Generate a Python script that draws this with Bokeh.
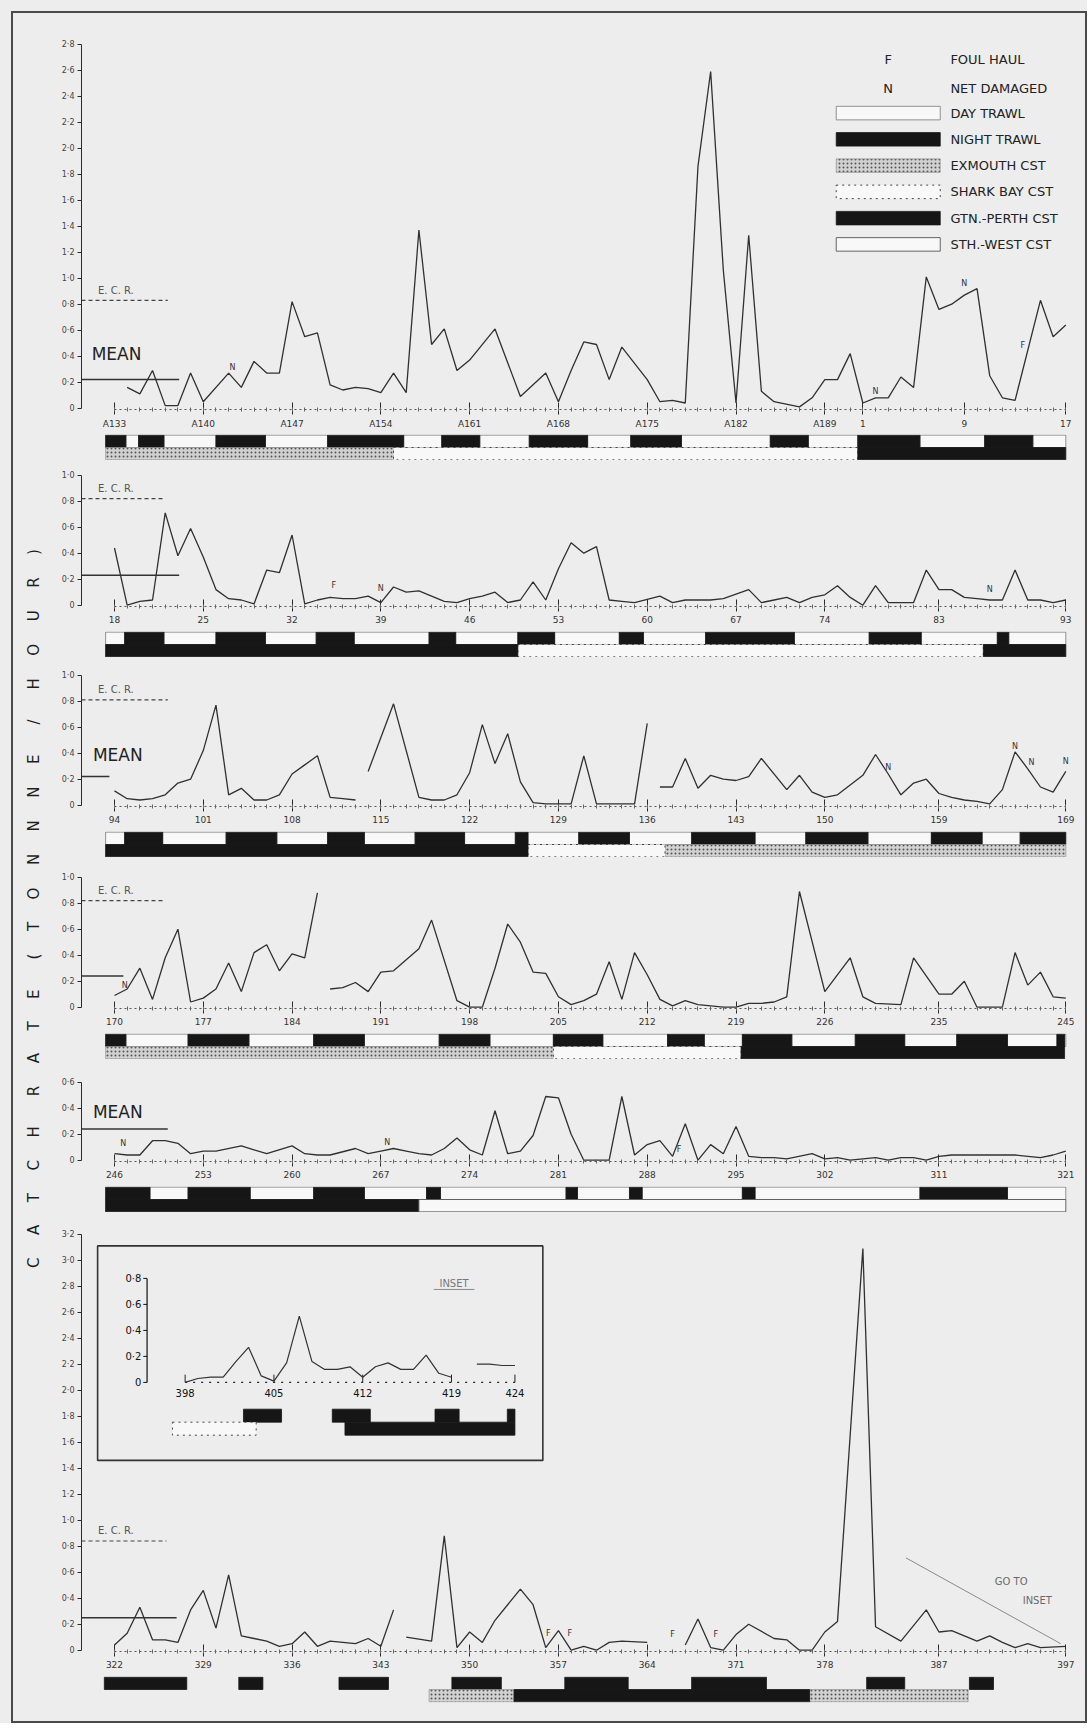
import math
from bokeh.plotting import figure
from bokeh.models import Range1d, FixedTicker, Spacer
from bokeh.layouts import column, row
from bokeh.embed import file_html
from bokeh.resources import INLINE
from bokeh.core.properties import value

# ------------------------------------------------------------------ data
# Each strip shows 76 consecutive hauls (positions 0..75); None = no point.
STD_TICK_POS = [0, 7, 14, 21, 28, 35, 42, 49, 56, 65, 75]

p1_tick_pos = [0, 7, 14, 21, 28, 35, 42, 49, 56, 59, 67, 75]
p1_tick_labels = ["A133", "A140", "A147", "A154", "A161", "A168", "A175",
                  "A182", "A189", "1", "9", "17"]
p1_rate = [None, 0.16, 0.11, 0.29, 0.02, 0.02, 0.27, 0.05, None, 0.27,
           0.16, 0.36, 0.27, 0.27, 0.82, 0.55, 0.58, 0.18, 0.14, 0.16,
           0.15, 0.12, 0.27, 0.12, 1.37, 0.49, 0.61, 0.29, 0.37, None,
           0.61, None, 0.09, None, 0.27, 0.05, 0.29, 0.51, 0.49, 0.22,
           0.47, None, 0.22, 0.05, 0.06, 0.04, 1.86, 2.59, 1.06, 0.04,
           1.33, 0.13, 0.05, None, 0.01, 0.08, 0.22, 0.22, 0.42, 0.04,
           0.08, 0.08, 0.24, 0.16, 1.01, 0.76, 0.80, 0.87, 0.92, 0.25,
           0.08, 0.06, None, 0.83, 0.55, 0.64]
p1_breaks = []
p1_night = [(-0.7, 0.9), (1.9, 3.9), (8.0, 11.9), (16.8, 22.8), (25.8, 28.8),
            (32.7, 37.3), (40.7, 44.7), (51.7, 54.7), (58.6, 63.5), (68.6, 72.4)]
p1_coast = [("exmouth", -0.7, 22.0), ("shark", 22.0, 58.6), ("perth", 58.6, 75.0)]
p1_marks = [("N", 9.3, 0.31), ("N", 60.0, 0.13), ("N", 67.0, 0.96), ("F", 71.6, 0.48)]

p2_tick_labels = ["18", "25", "32", "39", "46", "53", "60", "67", "74", "83", "93"]
p2_rate = [0.44, 0.00, 0.03, 0.04, 0.71, 0.38, 0.59, 0.37, 0.12, 0.05,
           0.04, 0.01, 0.27, 0.25, 0.54, 0.01, 0.04, 0.06, 0.05, 0.05,
           0.07, 0.02, 0.14, 0.10, 0.11, 0.07, 0.03, 0.02, 0.05, 0.07,
           0.10, 0.02, 0.04, 0.18, 0.04, 0.28, 0.48, 0.40, 0.45, 0.04,
           0.03, 0.02, None, 0.07, 0.02, 0.04, 0.04, 0.04, 0.05, None,
           0.12, 0.02, 0.04, 0.06, 0.02, 0.06, 0.08, 0.15, 0.06, 0.00,
           0.15, 0.02, 0.02, 0.02, 0.27, 0.12, 0.12, 0.06, 0.05, 0.04,
           0.04, 0.27, 0.04, 0.04, 0.02, 0.04]
p2_breaks = []
p2_night = [(0.8, 3.9), (8.0, 11.9), (15.9, 18.9), (24.8, 26.9), (31.8, 34.7),
            (39.8, 41.7), (46.6, 53.6), (59.5, 63.6), (69.6, 70.5)]
p2_coast = [("perth", -0.7, 31.8), ("shark", 31.8, 68.5), ("perth", 68.5, 75.0)]
p2_marks = [("F", 17.3, 0.15), ("N", 21.0, 0.13), ("N", 69.0, 0.12)]

p3_tick_labels = ["94", "101", "108", "115", "122", "129", "136", "143", "150", "159", "169"]
p3_rate = [0.11, 0.05, 0.04, 0.05, 0.08, 0.17, 0.20, 0.42, 0.77, 0.08,
           0.13, 0.04, 0.04, 0.08, 0.24, 0.31, 0.38, 0.06, 0.05, 0.04,
           0.26, None, 0.78, None, 0.06, 0.04, 0.04, 0.08, 0.25, 0.62,
           0.32, 0.55, 0.18, 0.02, 0.01, 0.01, 0.01, 0.38, 0.01, 0.01,
           0.01, 0.01, 0.63, 0.14, 0.14, 0.36, 0.13, 0.23, 0.20, 0.19,
           0.22, 0.36, None, 0.12, 0.23, 0.10, 0.06, 0.08, None, 0.23,
           0.39, 0.24, 0.08, 0.17, 0.20, 0.09, 0.06, 0.04, 0.03, 0.01,
           0.12, 0.41, 0.28, 0.14, 0.10, 0.26]
p3_breaks = [19, 42]
p3_night = [(0.8, 3.8), (8.8, 12.8), (16.8, 19.7), (23.7, 27.6), (31.6, 32.6),
            (36.6, 40.6), (45.5, 50.5), (54.5, 59.4), (64.4, 68.4), (71.4, 75.0)]
p3_coast = [("perth", -0.7, 32.6), ("shark", 32.6, 43.4), ("exmouth", 43.4, 75.0)]
p3_marks = [("N", 61.0, 0.29), ("N", 71.0, 0.45), ("N", 72.3, 0.33), ("N", 75.0, 0.34)]

p4_tick_labels = ["170", "177", "184", "191", "198", "205", "212", "219", "226", "235", "245"]
p4_rate = [0.09, 0.14, 0.30, 0.06, 0.38, 0.60, 0.04, 0.07, 0.14, 0.34,
           0.12, 0.42, 0.48, 0.28, 0.41, 0.38, 0.88, 0.14, 0.15, 0.19,
           0.12, 0.27, 0.28, None, 0.45, 0.67, None, 0.05, 0.00, 0.00,
           0.30, 0.64, 0.50, 0.27, 0.26, 0.08, 0.02, 0.05, 0.10, 0.35,
           0.06, 0.42, 0.25, 0.06, 0.01, 0.05, 0.02, 0.01, 0.00, 0.00,
           0.03, 0.03, 0.04, 0.08, 0.89, None, 0.12, None, 0.38, 0.08,
           0.03, None, 0.02, 0.38, None, 0.10, 0.10, 0.20, 0.00, 0.00,
           0.00, 0.42, 0.17, 0.27, 0.08, 0.07]
p4_breaks = [16]
p4_night = [(-0.7, 0.9), (5.8, 10.6), (15.7, 19.7), (25.6, 29.6), (34.6, 38.5),
            (43.6, 46.5), (49.5, 53.4), (58.4, 62.3), (66.4, 70.4), (74.3, 74.9)]
p4_coast = [("exmouth", -0.7, 34.6), ("shark", 34.6, 49.4), ("perth", 49.4, 74.9)]
p4_marks = [("N", 0.8, 0.17)]

p5_tick_labels = ["246", "253", "260", "267", "274", "281", "288", "295", "302", "311", "321"]
p5_rate = [0.05, 0.04, 0.04, 0.15, 0.15, 0.13, 0.05, 0.07, 0.07, None,
           0.11, 0.08, 0.05, None, 0.11, 0.05, 0.04, 0.04, None, 0.09,
           0.05, 0.07, 0.09, 0.07, 0.05, 0.04, 0.09, 0.17, 0.08, 0.04,
           0.38, 0.05, 0.07, 0.19, 0.49, 0.48, 0.20, 0.00, 0.00, 0.00,
           0.49, 0.04, 0.12, 0.15, 0.03, 0.28, 0.00, 0.12, 0.05, 0.26,
           0.03, 0.02, 0.02, 0.01, None, 0.05, 0.01, 0.02, 0.00, 0.01,
           0.02, 0.00, 0.02, 0.02, 0.00, 0.03, 0.04, 0.04, 0.04, 0.04,
           0.04, 0.04, 0.03, 0.02, 0.04, 0.07]
p5_breaks = []
p5_night = [(-0.7, 2.8), (5.8, 10.7), (15.7, 19.7), (24.6, 25.7), (35.6, 36.5),
            (40.6, 41.6), (49.5, 50.5), (63.5, 70.4)]
p5_coast = [("perth", -0.7, 24.0), ("southwest", 24.0, 75.0)]
p5_marks = [("N", 0.7, 0.13), ("N", 21.5, 0.14), ("F", 44.5, 0.08)]

p6_tick_labels = ["322", "329", "336", "343", "350", "357", "364", "371", "378", "387", "397"]
p6_rate = [0.04, 0.13, 0.33, 0.08, 0.08, 0.06, 0.31, 0.46, 0.17, 0.58,
           0.11, 0.09, 0.07, 0.03, 0.05, 0.14, 0.03, 0.07, None, 0.05,
           0.09, 0.03, 0.31, 0.10, None, 0.07, 0.88, 0.02, 0.14, 0.06,
           0.23, None, 0.47, 0.35, 0.02, 0.15, 0.00, 0.03, 0.00, 0.06,
           0.07, None, 0.06, None, None, 0.04, 0.24, 0.02, 0.00, 0.12,
           0.20, None, 0.09, 0.08, 0.00, 0.00, 0.14, 0.22, None, 3.09,
           0.18, None, 0.07, None, 0.31, 0.14, 0.15, None, 0.07, 0.11,
           0.06, 0.02, 0.05, 0.02, None, 0.03]
p6_breaks = [22, 42]
p6_night = [(-0.8, 5.7), (9.8, 11.7), (17.7, 21.6), (26.6, 30.5), (35.5, 40.5),
            (45.5, 51.4), (59.3, 62.3), (67.4, 69.3)]
p6_coast = [("exmouth", 24.8, 31.5), ("perth", 31.5, 54.8), ("exmouth", 54.8, 67.3)]
p6_marks = [("F", 34.2, 0.13), ("F", 35.9, 0.13), ("F", 44.0, 0.12), ("F", 47.4, 0.12)]

# inset: hauls 398..424
inset_first_haul = 398
inset_tick_pos = [398, 405, 412, 419, 424]
inset_rate = [0.00, 0.03, 0.04, 0.04, 0.16, 0.27, 0.05, 0.01, 0.15, 0.51,
              0.16, 0.10, 0.10, 0.12, 0.04, 0.12, 0.15, 0.10, 0.10, 0.21,
              0.07, 0.04, None, 0.14, 0.14, 0.13, 0.13]
inset_breaks = [419]
inset_night = [(402.6, 405.6), (409.6, 412.6), (417.7, 419.6), (423.4, 424.0)]
inset_coast = [("shark", 397.0, 403.6), ("perth", 410.6, 424.0)]
inset_yticks = [0, 0.2, 0.4, 0.6, 0.8]

# reference levels per strip
ecr_level = [0.83, 0.82, 0.81, 0.82, None, 0.84]
mean_level = [0.22, 0.23, 0.22, 0.24, 0.24, 0.25]

legend_keys = ["day", "night", "exmouth", "shark", "perth", "southwest"]
legend_names = ["DAY TRAWL", "NIGHT TRAWL", "EXMOUTH CST", "SHARK BAY CST",
                "GTN.-PERTH CST", "STH.-WEST CST"]

# ------------------------------------------------------------------ style
PAPER = "#ededed"
FRAME = "#4a4a4a"
INK = "#2a2a2a"
FONT = "DejaVu Sans"
PX = 130.0               # pixels per tonne/hour
PAD = 11                 # page margin outside the drawn frame
LW = 2                   # frame line width
LAB_W = 32
FIG_W = 1040
LEFT = 36
RIGHT = 7
AXIS_BAND = 25
BAR_H = 26
XR = Range1d(-2.6, 76.0)

STYLES = {
    "day": dict(fill_color="#f8f8f8", line_color="#777777", line_width=0.8),
    "night": dict(fill_color="#161616", line_color="#161616", line_width=0.8),
    "exmouth": dict(fill_color="#d2d2d2", line_color="#8a8a8a", line_width=0.6,
                    hatch_pattern=".", hatch_color="#555555", hatch_scale=4, hatch_weight=1),
    "shark": dict(fill_color="#f8f8f8", line_color="#444444", line_width=1.0, line_dash="dotted"),
    "perth": dict(fill_color="#161616", line_color="#161616", line_width=0.8),
    "southwest": dict(fill_color="#f8f8f8", line_color="#555555", line_width=0.9),
}


def fmt(t):
    return "0" if t == 0 else f"{t:.1f}".replace(".", "\u00b7")


def series(vals, breaks, start=0):
    xs, ys = [], []
    for i, v in enumerate(vals):
        if v is None:
            continue
        xs.append(start + i)
        ys.append(v)
        if start + i in breaks:
            xs.append(start + i + 0.5)
            ys.append(float("nan"))
    return xs, ys


def day_segments(night, span):
    segs, cur = [], span[0]
    for a, b in sorted(night):
        if a > cur:
            segs.append((cur, a))
        cur = max(cur, b)
    if cur < span[1]:
        segs.append((cur, span[1]))
    return segs


def txt(p, xs, ys, texts, size, color=INK, align="left", baseline="middle", **kw):
    p.text(x=xs, y=ys, text=texts, text_font=value(FONT), text_font_size=size,
           text_color=color, text_align=align, text_baseline=baseline, **kw)


def bars(p, night, coast, span, y_row1, y_row2, with_day=True, **kw):
    if with_day:
        day = day_segments(night, span)
        p.quad(left=[a for a, b in day], right=[b for a, b in day],
               bottom=y_row1[0], top=y_row1[1], **STYLES["day"], **kw)
    p.quad(left=[a for a, b in night], right=[b for a, b in night],
           bottom=y_row1[0], top=y_row1[1], **STYLES["night"], **kw)
    for key in STYLES:
        segs = [(a, b) for k, a, b in coast if k == key]
        if segs:
            p.quad(left=[a for a, b in segs], right=[b for a, b in segs],
                   bottom=y_row2[0], top=y_row2[1], **STYLES[key], **kw)


def strip(rate, breaks, tick_pos, tick_labels, ytop, ymax, top, ecr, mean,
          ecr_end, mean_end, mean_text, marks):
    fh = round((ymax + 0.01) * PX)
    p = figure(width=FIG_W, height=top + fh + AXIS_BAND, x_range=XR,
               y_range=Range1d(-0.01, -0.01 + fh / PX), output_backend="svg",
               toolbar_location=None, title=None, min_border_left=LEFT,
               min_border_right=RIGHT, min_border_top=top,
               min_border_bottom=AXIS_BAND)
    p.grid.visible = False
    p.background_fill_color = PAPER
    p.border_fill_color = PAPER
    p.outline_line_color = None

    yt = [round(0.2 * k, 1) for k in range(int(round(ytop / 0.2)) + 1)]
    ya = p.yaxis[0]
    ya.ticker = FixedTicker(ticks=yt)
    ya.major_label_overrides = {t: fmt(t) for t in yt}
    ya.bounds = (0, ytop)
    ya.major_tick_in = 0
    ya.major_tick_out = 4
    ya.minor_tick_in = 0
    ya.minor_tick_out = 0
    ya.major_label_standoff = 3
    ya.major_label_text_font = FONT
    ya.major_label_text_font_size = "8px"
    ya.major_label_text_color = "#444444"
    ya.axis_line_color = INK
    ya.major_tick_line_color = INK

    xa = p.xaxis[0]
    xa.ticker = FixedTicker(ticks=tick_pos, minor_ticks=list(range(0, 76)))
    xa.major_label_overrides = {t: l for t, l in zip(tick_pos, tick_labels)}
    xa.bounds = (0, 75)
    xa.axis_line_dash = "2 3"
    xa.axis_line_color = "#555555"
    xa.major_tick_in = 7
    xa.major_tick_out = 5
    xa.minor_tick_in = 2
    xa.minor_tick_out = 2
    xa.major_tick_line_color = INK
    xa.minor_tick_line_color = "#666666"
    xa.major_label_standoff = 4
    xa.major_label_text_font = FONT
    xa.major_label_text_font_size = "9px"
    xa.major_label_text_color = "#333333"

    x0 = XR.start
    if ecr is not None:
        p.segment(x0=[x0], y0=[ecr], x1=[ecr_end], y1=[ecr], line_color="#444444",
                  line_width=1.2, line_dash="4 3")
        txt(p, [-1.3], [ecr + 0.035], ["E. C. R."], "10px", color="#555555", baseline="bottom")
    p.segment(x0=[x0], y0=[mean], x1=[mean_end], y1=[mean], line_color="#333333",
              line_width=1.5)
    if mean_text is not None:
        txt(p, [mean_text[0]], [mean_text[1]], ["MEAN"], "17px", color="#222222")

    xs, ys = series(rate, breaks)
    p.line(xs, ys, line_color="#303030", line_width=1.3)

    if marks:
        txt(p, [m[1] for m in marks], [m[2] for m in marks], [m[0] for m in marks],
            "8px", color="#333333", align="center")
    return p


def bar_fig(night, coast, span, bottom=0, with_day=True):
    b = figure(width=FIG_W, height=BAR_H + bottom, x_range=XR, y_range=Range1d(0, 2),
               output_backend="svg", toolbar_location=None, title=None,
               x_axis_type=None, y_axis_type=None, min_border=0,
               min_border_left=LEFT, min_border_right=RIGHT, min_border_top=0,
               min_border_bottom=bottom)
    b.grid.visible = False
    b.background_fill_color = PAPER
    b.border_fill_color = PAPER
    b.outline_line_color = None
    bars(b, night, coast, span, (1.0, 1.95), (0.05, 1.0), with_day=with_day)
    return b


# ------------------------------------------------------------------ strips
p1 = strip(p1_rate, p1_breaks, p1_tick_pos, p1_tick_labels, 2.8, 2.86, 23,
           ecr_level[0], mean_level[0], 4.2, 5.1, (-1.8, 0.42), p1_marks)
b1 = bar_fig(p1_night, p1_coast, (-0.7, 75.0))

# legend (top right of first strip)
leg_y = [2.27 - 0.202 * k for k in range(len(legend_keys))]
for key, yy in zip(legend_keys, leg_y):
    p1.quad(left=[56.9], right=[65.1], bottom=[yy - 0.052], top=[yy + 0.052], **STYLES[key])
txt(p1, [65.9] * len(legend_names), leg_y, legend_names, "13px", color="#222222")
txt(p1, [61.0, 61.0], [2.68, 2.46], ["F", "N"], "13px", color="#222222", align="center")
txt(p1, [65.9, 65.9], [2.68, 2.46], ["FOUL HAUL", "NET DAMAGED"], "13px", color="#222222")

p2 = strip(p2_rate, p2_breaks, STD_TICK_POS, p2_tick_labels, 1.0, 1.05, 8,
           ecr_level[1], mean_level[1], 3.9, 5.1, None, p2_marks)
b2 = bar_fig(p2_night, p2_coast, (-0.7, 75.0))

p3 = strip(p3_rate, p3_breaks, STD_TICK_POS, p3_tick_labels, 1.0, 1.05, 11,
           ecr_level[2], mean_level[2], 4.2, -0.4, (-1.7, 0.39), p3_marks)
b3 = bar_fig(p3_night, p3_coast, (-0.7, 75.0))

p4 = strip(p4_rate, p4_breaks, STD_TICK_POS, p4_tick_labels, 1.0, 1.05, 13,
           ecr_level[3], mean_level[3], 3.9, 0.7, None, p4_marks)
b4 = bar_fig(p4_night, p4_coast, (-0.7, 75.0))

p5 = strip(p5_rate, p5_breaks, STD_TICK_POS, p5_tick_labels, 0.6, 0.65, 16,
           ecr_level[4], mean_level[4], 0.0, 4.2, (-1.7, 0.37), p5_marks)
b5 = bar_fig(p5_night, p5_coast, (-0.7, 75.0))

p6 = strip(p6_rate, p6_breaks, STD_TICK_POS, p6_tick_labels, 3.2, 3.25, 15,
           ecr_level[5], mean_level[5], 4.1, 4.9, None, p6_marks)
b6 = bar_fig(p6_night, p6_coast, (-0.8, 69.3), bottom=19, with_day=False)

# "GO TO INSET" pointer
p6.segment(x0=[62.4], y0=[0.71], x1=[74.6], y1=[0.05], line_color="#8a8a8a", line_width=1)
txt(p6, [69.4, 71.6], [0.53, 0.38], ["GO TO", "INSET"], "10px", color="#6a6a6a")

# inset drawn on its own ranges inside the last strip
IX_SHIFT = inset_first_haul - 5.57
IY_SHIFT = 2.06
p6.extra_x_ranges = {"ix": Range1d(XR.start + IX_SHIFT, XR.end + IX_SHIFT)}
p6.extra_y_ranges = {"iy": Range1d(p6.y_range.start - IY_SHIFT, p6.y_range.end - IY_SHIFT)}
IK = dict(x_range_name="ix", y_range_name="iy")

p6.quad(left=[391.1], right=[426.2], bottom=[-0.6], top=[1.05], fill_color=PAPER,
        line_color="#333333", line_width=1.6, **IK)
# inset y axis
p6.segment(x0=[395.0], y0=[0], x1=[395.0], y1=[max(inset_yticks)], line_color="#111111",
           line_width=1.2, **IK)
p6.segment(x0=[395.0] * len(inset_yticks), y0=inset_yticks,
           x1=[394.7] * len(inset_yticks), y1=inset_yticks, line_color="#111111", **IK)
txt(p6, [394.55] * len(inset_yticks), inset_yticks, [fmt(t) for t in inset_yticks],
    "10px", color="#111111", align="right", **IK)
# inset x axis
p6.segment(x0=[398.0], y0=[0.0], x1=[424.0], y1=[0.0], line_color="#222222",
           line_width=1.2, line_dash="2 6", **IK)
p6.segment(x0=inset_tick_pos, y0=[0.0] * len(inset_tick_pos), x1=inset_tick_pos,
           y1=[0.06] * len(inset_tick_pos), line_color="#222222", **IK)
txt(p6, inset_tick_pos, [-0.05] * len(inset_tick_pos), [str(t) for t in inset_tick_pos],
    "10px", color="#111111", align="center", baseline="top", **IK)
ixs, iys = series(inset_rate, inset_breaks, start=inset_first_haul)
p6.line(ixs, iys, line_color="#333333", line_width=1.2, **IK)
bars(p6, inset_night, inset_coast, (398, 424), (-0.306, -0.206), (-0.406, -0.306),
     with_day=False, **IK)
txt(p6, [419.2], [0.76], ["INSET"], "10px", color="#777777", align="center", **IK)
p6.segment(x0=[417.6], y0=[0.715], x1=[420.8], y1=[0.715], line_color="#888888", **IK)

figs = [p1, b1, p2, b2, p3, b3, p4, b4, p5, b5, p6, b6]
H = sum(f.height for f in figs)

# vertical label
words = ["CATCH", "RATE", "(TONNNE", "/", "HOUR)"]
inner_gap = "\u2002\u2002\u2002"
outer_gap = "\u2002\u2002\u2002\u2002"
vlabel = outer_gap.join(inner_gap.join(w) for w in words)
lab = figure(width=LAB_W, height=H, x_range=Range1d(0, LAB_W), y_range=Range1d(0, H),
             output_backend="svg", toolbar_location=None, title=None,
             x_axis_type=None, y_axis_type=None, min_border=0)
lab.grid.visible = False
lab.background_fill_color = PAPER
lab.border_fill_color = PAPER
lab.outline_line_color = None
txt(lab, [20], [H - 895], [vlabel], "15px", color="#1e1e1e", align="center",
    angle=math.pi / 2)

# page frame: thin dark spacers around the content
content = row(lab, column(*figs, spacing=0), spacing=0)
W_IN = LAB_W + FIG_W


def vline():
    return Spacer(width=LW, height=H, styles={"background-color": FRAME})


def hline():
    return Spacer(width=W_IN + 2 * LW, height=LW, styles={"background-color": FRAME})


framed = column(hline(), row(vline(), content, vline(), spacing=0), hline(), spacing=0)
page = row(Spacer(width=PAD, height=H + 2 * LW + PAD),
           column(Spacer(width=W_IN + 2 * LW, height=PAD), framed, spacing=0),
           spacing=0, styles={"background-color": PAPER})

with open("out.html", "w") as f:
    f.write(file_html(page, INLINE))
